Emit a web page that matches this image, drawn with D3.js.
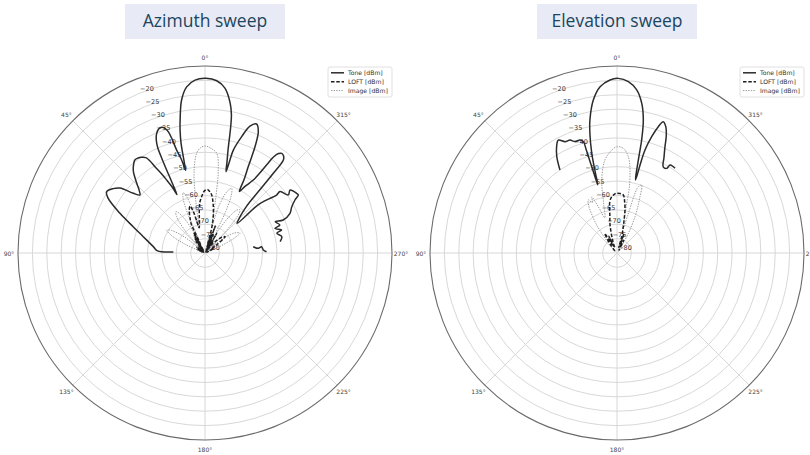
<!DOCTYPE html>
<html>
<head>
<meta charset="utf-8">
<script src="https://cdn.jsdelivr.net/npm/d3@7"></script>
<style>
  body { margin: 0; background: #fff; }
  text { font-family: "DejaVu Sans", sans-serif; }
</style>
</head>
<body>
<svg></svg>
<script>
var width = 810;
var height = 455;

// radial axis (dBm) and angle ticks
var radialTicks = [-80, -75, -70, -65, -60, -55, -50, -45, -40, -35, -30, -25, -20];
var rMin = -80, rMax = -15;
var angleTicks = [0, 45, 90, 135, 180, 225, 270, 315];
var seriesNames = ["Tone [dBm]", "LOFT [dBm]", "Image [dBm]"];
var titles = ["Azimuth sweep", "Elevation sweep"];

// [angle in degrees (counter-clockwise from top), level dBm]
var azTone = [
  [88.2,-69.0],[87.5,-63.5],[83,-61.9],[75.2,-57.8],[69.9,-53.4],[65,-47.4],[60.4,-41.2],[58.1,-39.7],[55,-41.0],[52.6,-42.8],[50.2,-47.6],[48.3,-49.7],
  [46.5,-48.5],[44.4,-46.1],[41.5,-42.5],[39.7,-41.0],[37,-39.5],[35.2,-39.6],[33.5,-40.1],[31.8,-41.0],[30.9,-42.6],[30.1,-45.3],[28.8,-48.6],[27.7,-51.4],[26.4,-54.6],[25.6,-57.5],
  [25.1,-53.5],[24.8,-48.2],[24.5,-43.5],[24.2,-40.0],[23.4,-37.4],[22.2,-35.4],[20.5,-34.0],[19,-33.8],[17.7,-34.6],[16.8,-36.0],[16.1,-39.0],[15.4,-42.9],[14.2,-46.3],[13.2,-50.5],
  [12.9,-48.0],[12.3,-40.9],[11.5,-36.6],[10.6,-33.0],[8.7,-26.2],[6.3,-21.9],[3.3,-19.8],[-0.3,-19.3],[-3.9,-20.0],[-6.9,-22.3],[-9.5,-27.1],[-10.8,-31.0],[-11.5,-35.2],[-12.6,-43.3],[-13.6,-47.5],[-14.5,-50.8],
  [-15.0,-46.5],[-15.4,-42.9],[-17.5,-37.6],[-19.5,-33.2],[-21.8,-31.7],[-23.7,-33.9],[-25.2,-39.2],[-26.6,-46.4],[-28.0,-51.0],[-29.2,-55.5],
  [-31.0,-53.0],[-33.5,-49.6],[-35,-42.6],[-35.5,-39.0],[-36.5,-37.0],[-37.6,-36.3],[-39.0,-36.6],[-40.1,-37.7],[-40.6,-43.5],[-41.0,-51.7],[-41.6,-58.2],[-44.5,-63.0],[-47.3,-64.8],
  [-47.8,-55.1],[-49.3,-51.7],[-51,-48],[-50.7,-46.3],[-55.1,-44.7],[-53.5,-43.2],[-56.9,-42],[-58.1,-41.8],[-59.5,-43.7],[-61.9,-45.8],[-65,-47.4],[-67.1,-50.5],
  [-65.9,-53.3],[-69.5,-52.2],[-70.6,-54.2],[-73.3,-52.2],[-74.6,-54.1],[-78,-52.7],[-81.4,-53.6],
  null,
  [-82.6,-63.1],[-85,-61.4],[-83.7,-60.2],[-87,-59.7],[-88.8,-58.6]
];

var azLoft = [
  [70,-79],[64,-77],[60,-79.5],[55,-76.5],[50,-79],[45,-77],[40,-79.5],[38,-75],[37,-79],[35,-74],[33.5,-78.5],[32,-73],[30.5,-79],[29,-72],[27,-76.5],
  [25.5,-69],[24,-67.5],[20,-64],[17.7,-62.9],[15.5,-65.5],[13,-71],[11,-70],
  [8.9,-67.2],[6,-62.5],[3.4,-60.4],[0.5,-58.4],[-2.1,-57.9],[-4.5,-58.6],[-6.6,-59.7],[-9.5,-62.8],[-12.9,-67.1],[-15,-71],[-16.5,-77],[-18,-73],[-19.5,-79],
  [-21,-70],[-22.5,-78],[-24,-73],[-25.5,-79],[-27,-75],[-29,-79.5],[-31,-72],[-33,-78],[-35,-75],[-37,-79.5],[-39,-76],
  [-43,-74],[-47,-72],[-51,-71],[-55,-75],[-59,-78],[-63,-76.5],[-68,-79.5]
];

var azImage = [
  [72,-79],[66,-72],[62,-66.5],[59,-64.5],[56,-66],[52,-71],[47,-78],[42,-70],[38,-64],[35.1,-62.4],[32,-64.5],[29,-70],[26,-75],[23.5,-64],[21.5,-59],[19.8,-57.7],
  [18,-59.5],[16,-64],[13.5,-71],[11,-66],[9.5,-59],[7.5,-51],[4.8,-45.2],[2.5,-43.4],[0,-42.8],[-3,-43.5],[-6.7,-45.1],[-9.1,-50.8],[-10.5,-57.7],[-12,-65],[-14,-70],
  [-16.5,-63],[-19.5,-57.5],[-22.4,-55.7],[-24.5,-58],[-26.5,-64],[-29,-72],[-33,-66],[-36.5,-61.5],[-39.1,-60.7],[-41.5,-63],[-44,-70],[-48,-76],[-52,-71],[-56,-67.5],
  [-60.3,-66],[-63,-68.5],[-66,-74],[-70,-79]
];

var elTone = [
  [34.5,-45],[32,-40.5],[29.6,-37.5],[27.5,-35.8],[25,-37.3],[22.6,-37.5],[20.7,-38.6],[18.1,-38.7],[16.8,-39.6],[16.6,-42.5],[16.4,-47.3],[16.1,-52.2],[15.7,-55.4],
  [15.0,-50.5],[14.2,-44.2],[12.8,-37.5],[11.5,-32.8],[8.8,-26.2],[5.8,-21.9],[2.3,-19.8],[-0.4,-19.3],[-3.8,-20.3],[-6.9,-22.9],[-9.4,-27.3],[-11.2,-32.9],[-12.3,-39.8],
  [-12.8,-45.7],[-13.8,-52.7],[-14.3,-53.8],
  [-14.7,-48],[-15.2,-42.9],[-16.6,-37.8],[-18.1,-33.8],[-19.4,-31.6],[-21.1,-32.9],[-22.8,-35.8],[-24.3,-39.5],[-26.2,-43],[-28.2,-46],[-30.4,-45.9],[-31.1,-44.3],
  [-33.1,-44.2],[-34.4,-44.3]
];

var elLoft = [
  [45,-79],[38,-76],[32,-72],[29,-77],[26,-73.5],[23,-78],[20,-76],[14,-70],[11,-67],[8,-62],[5.4,-60.4],[2,-59.4],[0.3,-59.2],[-3,-59.3],[-6.2,-59.7],[-8.5,-62],[-10.5,-64.8],
  [-12,-68],[-13.5,-70.6],[-16,-74],[-18,-78],[-20,-73],[-24,-77],[-28,-75],[-35,-79]
];

var elImage = [
  [40,-75],[36,-68],[31,-61],[28.4,-59],[26,-60.5],[24.2,-58.6],[22,-62.6],[19,-67],[15,-62],[11.8,-54.1],[7.4,-47.4],[2.9,-44.2],[0.2,-43.1],[-3.4,-43.5],
  [-6.7,-46.3],[-8.9,-50.8],[-10.8,-57.7],[-11,-62.4],[-12,-68],[-14,-72],[-16,-66],[-17.8,-55.8],[-20,-54.9],[-22.2,-58.9],[-24,-62],[-26.4,-65.9],[-30,-72],[-36,-78]
];

var panels = [
  { cx: 205, cy: 253, title: titles[0], series: [azTone, azLoft, azImage] },
  { cx: 617, cy: 253, title: titles[1], series: [elTone, elLoft, elImage] }
];

var styles = [
  { stroke: "#2b2b2b", width: 1.5, dash: null },
  { stroke: "#1e1e1e", width: 1.5, dash: "3.5,1.8" },
  { stroke: "#9a9a9a", width: 1, dash: "1.4,1.2" }
];

var outerR = 187;
var r = d3.scaleLinear().domain([rMin, rMax]).range([0, outerR]);
var rad = a => a * Math.PI / 180;

var svg = d3.select("svg")
  .attr("width", width)
  .attr("height", height);

var line = d3.lineRadial()
  .defined(d => d != null)
  .angle(d => -rad(d[0]))
  .radius(d => r(d[1]))
  .curve(d3.curveCatmullRom.alpha(0.5));

panels.forEach(function(p) {
  // title box
  svg.append("rect")
    .attr("x", p.cx - 80).attr("y", 4)
    .attr("width", 160).attr("height", 35)
    .attr("fill", "#e8ebf5");
  svg.append("text")
    .attr("x", p.cx).attr("y", 27)
    .attr("text-anchor", "middle")
    .style("font-family", "'Open Sans', sans-serif")
    .style("font-size", "17.5px")
    .style("font-weight", 500)
    .attr("fill", "#1b4560")
    .text(p.title);

  var g = svg.append("g").attr("transform", "translate(" + p.cx + "," + p.cy + ")");

  // rings
  g.selectAll("circle.ring")
    .data(radialTicks.filter(t => t > rMin))
    .enter()
    .append("circle")
      .attr("class", "ring")
      .attr("r", d => r(d))
      .attr("fill", "none")
      .attr("stroke", "#d4d4d4")
      .attr("stroke-width", 0.9);

  // spokes
  g.selectAll("line.spoke")
    .data(angleTicks)
    .enter()
    .append("line")
      .attr("x1", 0).attr("y1", 0)
      .attr("x2", d => -outerR * Math.sin(rad(d)))
      .attr("y2", d => -outerR * Math.cos(rad(d)))
      .attr("stroke", "#d4d4d4")
      .attr("stroke-width", 0.9);

  g.append("circle")
    .attr("r", outerR)
    .attr("fill", "none")
    .attr("stroke", "#6a6a6a")
    .attr("stroke-width", 1.1);

  // angle labels
  g.selectAll("text.ang")
    .data(angleTicks)
    .enter()
    .append("text")
      .attr("x", d => -196 * Math.sin(rad(d)))
      .attr("y", d => -196 * Math.cos(rad(d)))
      .attr("text-anchor", "middle")
      .attr("dominant-baseline", "central")
      .style("font-size", "6px")
      .attr("fill", "#444")
      .text(d => d + "°");

  // radial labels along 22.5°
  g.selectAll("text.rl")
    .data(radialTicks)
    .enter()
    .append("text")
      .attr("x", d => -r(d) * Math.sin(rad(22.5)) + 8)
      .attr("y", d => -r(d) * Math.cos(rad(22.5)) - 5)
      .attr("text-anchor", "middle")
      .attr("dominant-baseline", "central")
      .style("font-size", "6.5px")
      .attr("fill", "#333")
      .text(d => String(d).replace("-", "\u2212"));

  // series, drawn image first so tone sits on top
  [2, 1, 0].forEach(function(i) {
    g.append("path")
      .datum(p.series[i])
      .attr("d", line)
      .attr("fill", "none")
      .attr("stroke", styles[i].stroke)
      .attr("stroke-width", styles[i].width)
      .attr("stroke-dasharray", styles[i].dash)
      .attr("stroke-linejoin", "round");
  });

  // legend
  var lg = svg.append("g").attr("transform", "translate(" + (p.cx + 123) + ",67)");
  lg.append("rect")
    .attr("width", 64).attr("height", 30)
    .attr("rx", 2)
    .attr("fill", "#fff")
    .attr("stroke", "#d8d8d8")
    .attr("stroke-width", 0.8);
  seriesNames.forEach(function(name, i) {
    var y = 5.8 + i * 8.9;
    lg.append("line")
      .attr("x1", 3).attr("x2", 16)
      .attr("y1", y).attr("y2", y)
      .attr("stroke", styles[i].stroke)
      .attr("stroke-width", styles[i].width)
      .attr("stroke-dasharray", styles[i].dash);
    lg.append("text")
      .attr("x", 20).attr("y", y)
      .attr("dominant-baseline", "central")
      .style("font-size", "6.1px")
      .attr("fill", "#333")
      .text(name);
  });
});
</script>
</body>
</html>
